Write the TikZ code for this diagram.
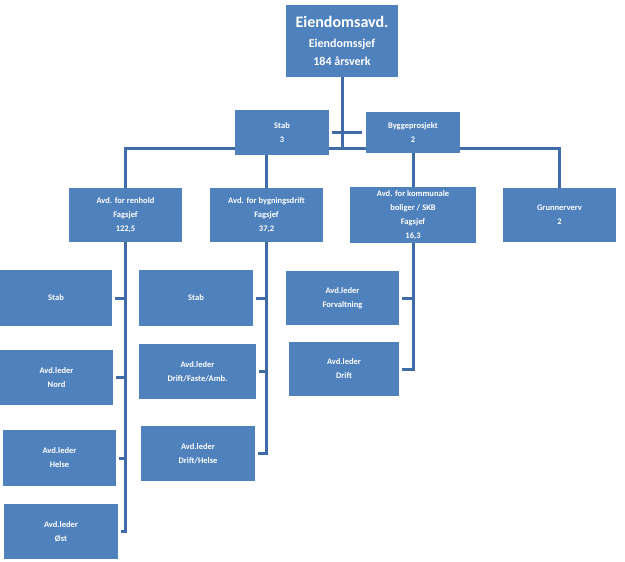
\documentclass[tikz,border=0pt]{standalone}
\usepackage{fontspec}
\setmainfont{Carlito}
\usepackage{tikz}
\usetikzlibrary{positioning,calc,backgrounds}
\definecolor{boksblaa}{HTML}{4F81BD}
\definecolor{linjeblaa}{HTML}{3F6CA6}
\tikzstyle{enhet} = [rectangle, fill=boksblaa, text=white, inner sep=0pt, align=center,
font=\bfseries\fontsize{8.5}{14}\selectfont]
\tikzstyle{leder} = [enhet, minimum width=113pt, minimum height=55pt]
\tikzstyle{linje} = [draw=linjeblaa, line width=3pt]

\begin{document}
\begin{tikzpicture}[x=1pt,y=-1pt]
							\useasboundingbox (0,0) rectangle (625,562);
							\node (top) at (342,41) [enhet, minimum width=112pt, minimum height=72pt] {{\fontsize{16}{18}\selectfont Eiendomsavd.}\\[6pt]{\fontsize{12}{20}\selectfont Eiendomssjef}\\[4pt]{\fontsize{12}{20}\selectfont 184 årsverk}};
							\node (stab) at (282,132.5) [enhet, minimum width=94pt, minimum height=45pt] {Stab\\3};
							\node (bygg) at (413,132.5) [enhet, minimum width=94pt, minimum height=41pt] {Byggeprosjekt\\2};
							\coordinate (bus) at (342,148);
							\node (renhold) at (125.5,215) [enhet, minimum width=113pt, minimum height=54pt] {Avd. for renhold\\Fagsjef\\122,5};
							\node (bygning) at (266.5,215) [enhet, minimum width=113pt, minimum height=54pt] {Avd. for bygningsdrift\\Fagsjef\\37,2};
							\node (kommunale) at (413,215) [enhet, minimum width=126pt, minimum height=56pt] {Avd. for kommunale\\boliger / SKB\\Fagsjef\\16,3};
							\node (grunn) at (559.5,215) [enhet, minimum width=113pt, minimum height=54pt] {Grunnerverv\\2};
							\node (rstab) at (56,298) [leder, minimum width=112pt, minimum height=56pt] {Stab};
							\node (rnord) at (56.5,377.5) [leder] {Avd.leder\\Nord};
							\node (rhelse) at (59.5,458) [leder, minimum height=56pt] {Avd.leder\\Helse};
							\node (rost) at (61,531.5) [leder, minimum width=114pt] {Avd.leder\\Øst};
							\node (bstab) at (196,298) [leder, minimum width=114pt, minimum height=56pt] {Stab};
							\node (bdfa) at (197.5,371.5) [leder, minimum width=117pt] {Avd.leder\\Drift/Faste/Amb.};
							\node (bhelse) at (198,453.5) [leder, minimum width=114pt] {Avd.leder\\Drift/Helse};
							\node (kforv) at (342.5,298) [leder, minimum height=54pt] {Avd.leder\\Forvaltning};
							\node (kdrift) at (344,369) [leder, minimum width=110pt, minimum height=54pt] {Avd.leder\\Drift};
							\begin{scope}[on background layer]
							\draw[linje] (top) -- (top |- bus);
							\draw[linje, shorten <=3pt, shorten >=4pt] (stab.east) -- (bygg.west);
							\draw[linje] (renhold.north) |- (bus) -| (grunn.north);
							\draw[linje] (bygning.north) -- (bygning.north |- bus);
							\draw[linje] (kommunale.north) -- (kommunale.north |- bus);
							\draw[linje] (renhold.south) |- ([xshift=3pt]rost.east);
							\draw[linje] ([xshift=3pt]rstab.east) -- (rstab.east -| renhold.south);
							\draw[linje] ([xshift=3pt]rnord.east) -- (rnord.east -| renhold.south);
							\draw[linje] ([xshift=3pt]rhelse.east) -- (rhelse.east -| renhold.south);
							\draw[linje] (bygning.south) |- ([xshift=3pt]bhelse.east);
							\draw[linje] ([xshift=3pt]bstab.east) -- (bstab.east -| bygning.south);
							\draw[linje] ([xshift=3pt]bdfa.east) -- (bdfa.east -| bygning.south);
							\draw[linje] (kommunale.south) |- ([xshift=3pt]kdrift.east);
							\draw[linje] ([xshift=3pt]kforv.east) -- (kforv.east -| kommunale.south);
							\end{scope}
						\end{tikzpicture}
\end{document}
